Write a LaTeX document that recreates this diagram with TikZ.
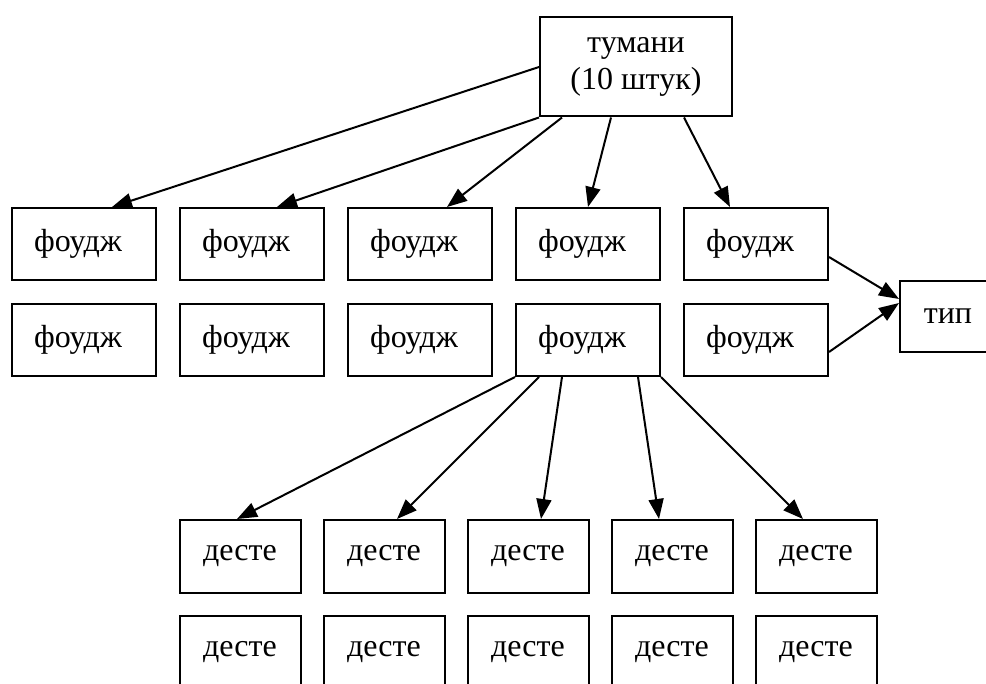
\documentclass[tikz,border=0pt]{standalone}
\usepackage{fontspec}
\setmainfont{Liberation Serif}
\usetikzlibrary{arrows.meta,calc}

\tikzset{
  box/.style={draw, line width=1pt, minimum width=72pt, minimum height=36pt,
    inner sep=0pt, font=\fontsize{16}{18.5}\selectfont},
  fnode/.style={box, execute at end node={\hspace{6pt}}},
  dbox/.style={box, minimum width=60.5pt, minimum height=36.5pt},
  arr/.style={line width=1pt, -{Triangle[length=10pt,width=7.5pt]}}
}

\begin{document}
\begin{tikzpicture}[x=0.5pt, y=-0.5pt]

  \newcommand\FX{168}
  \newcommand\DX{144}

  \clip (0,0) rectangle (986,684);

  \node[box, minimum width=96pt, minimum height=49.5pt, align=center] (T) at (636, 67) {тумани\\(10 штук)};

  \node[fnode] (F1) at (84+0*\FX, 244) {фоудж};
  \node[fnode] (F2) at (84+1*\FX, 244) {фоудж};
  \node[fnode] (F3) at (84+2*\FX, 244) {фоудж};
  \node[fnode] (F4) at (84+3*\FX, 244) {фоудж};
  \node[fnode] (F5) at (84+4*\FX, 244) {фоудж};
  \node[fnode] (G1) at (84+0*\FX, 340) {фоудж};
  \node[fnode] (G2) at (84+1*\FX, 340) {фоудж};
  \node[fnode] (G3) at (84+2*\FX, 340) {фоудж};
  \node[fnode] (G4) at (84+3*\FX, 340) {фоудж};
  \node[fnode] (G5) at (84+4*\FX, 340) {фоудж};

  \node[box, minimum width=48pt, minimum height=35.5pt] (P) at (948, 316.5) {тип};

  \node[dbox] (D1) at (240+0*\DX, 556.5) {десте};
  \node[dbox] (D2) at (240+1*\DX, 556.5) {десте};
  \node[dbox] (D3) at (240+2*\DX, 556.5) {десте};
  \node[dbox] (D4) at (240+3*\DX, 556.5) {десте};
  \node[dbox] (D5) at (240+4*\DX, 556.5) {десте};
  \node[dbox] (E1) at (240+0*\DX, 652.5) {десте};
  \node[dbox] (E2) at (240+1*\DX, 652.5) {десте};
  \node[dbox] (E3) at (240+2*\DX, 652.5) {десте};
  \node[dbox] (E4) at (240+3*\DX, 652.5) {десте};
  \node[dbox] (E5) at (240+4*\DX, 652.5) {десте};

  \draw[arr] (T.west) -- ($(F1.north)+(28,0)$); % T->F1
  \draw[arr] (T.south west) -- ($(F2.north)+(25,0)$); % T->F2
  \draw[arr] ($(T.south west)+(23,0)$) -- ($(F3.north)+(27,0)$); % T->F3
  \draw[arr] ($(T.south west)+(72,0)$) -- (F4.north); % T->F4
  \draw[arr] ($(T.south west)+(145,0)$) -- ($(F5.north)+(-26,0)$); % T->F5

  \draw[arr] ($(F5.east)+(0,13)$) -- ($(P.west)+(0,-17.5)$); % F5->P
  \draw[arr] ($(G5.east)+(0,12)$) -- ($(P.west)+(0,-13.5)$); % G5->P

  \draw[arr] (G4.south west) -- ($(D1.north)+(-3,0)$); % G4->D1
  \draw[arr] ($(G4.south west)+(24,0)$) -- ($(D2.north)+(13,0)$); % G4->D2
  \draw[arr] ($(G4.south west)+(47,0)$) -- ($(D3.north)+(13,0)$); % G4->D3
  \draw[arr] ($(G4.south east)+(-23,0)$) -- ($(D4.north)+(-13,0)$); % G4->D4
  \draw[arr] (G4.south east) -- ($(D5.north)+(-13,0)$); % G4->D5

\end{tikzpicture}
\end{document}
